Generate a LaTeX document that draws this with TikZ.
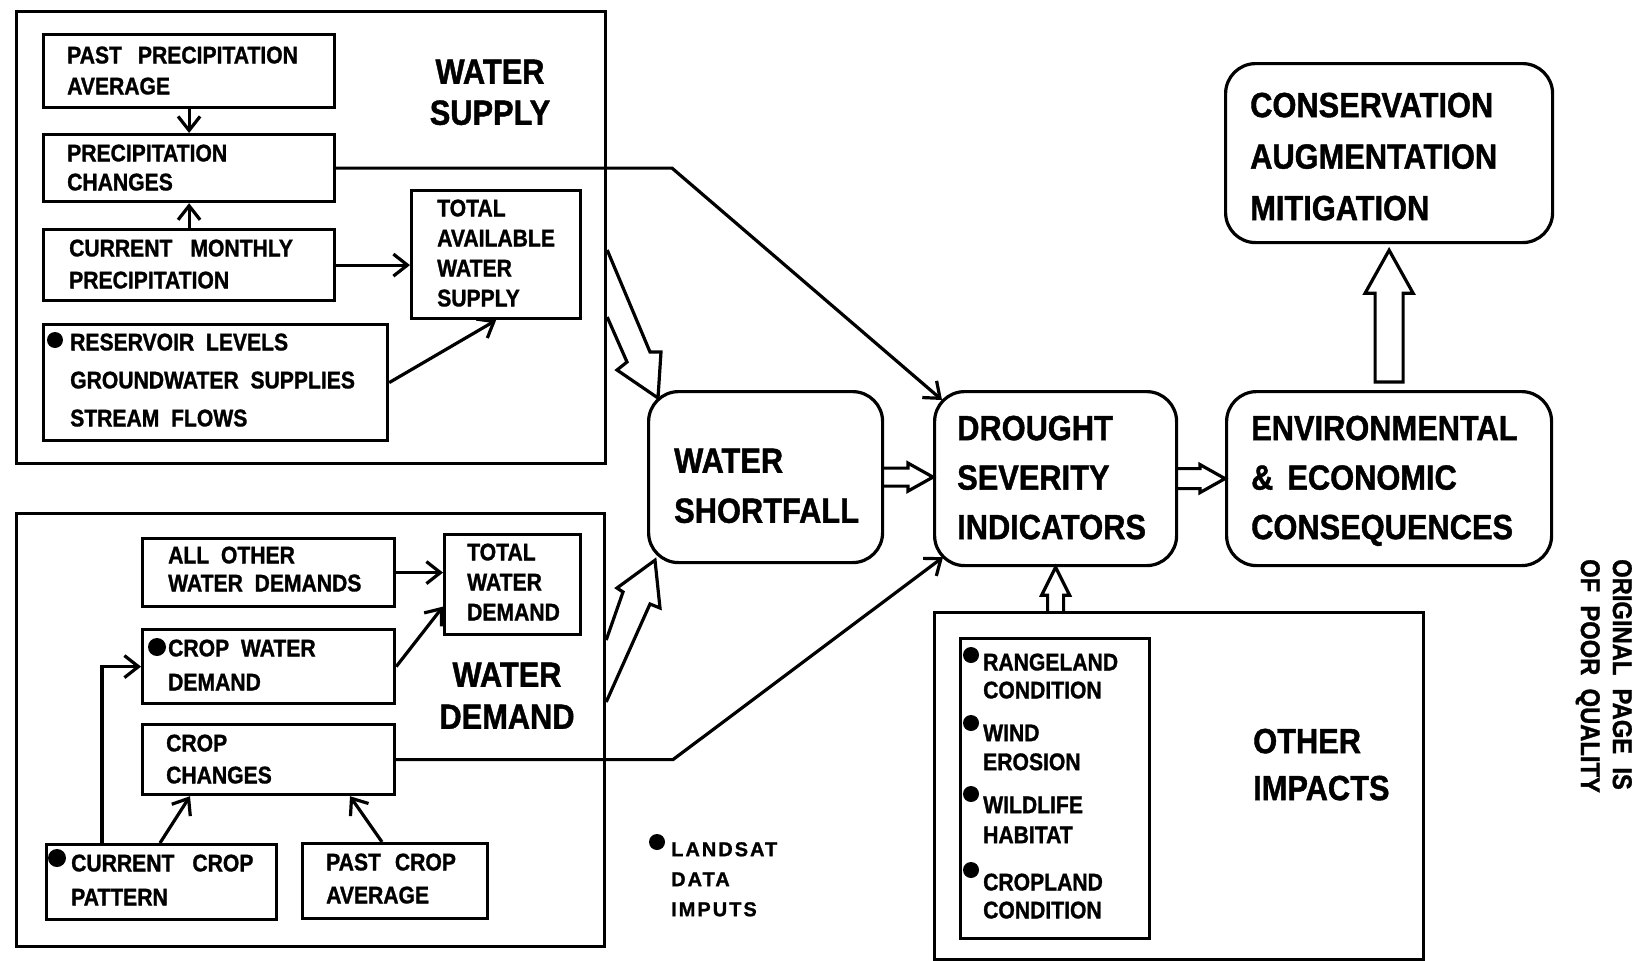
\documentclass[tikz,border=0pt]{standalone}
\usepackage{fontspec}
\setmainfont{Liberation Sans}
\newfontfamily\hb{Liberation Sans Bold}[FakeStretch=0.88,WordSpace=2,FakeBold=1.2]
\newfontfamily\lsfont{Liberation Sans Bold}[LetterSpace=10,FakeBold=1.2]
\usetikzlibrary{arrows.meta,calc}
\tikzset{
  bx/.style={draw,line width=3.2pt,inner sep=0pt,anchor=north west},
  rbx/.style={bx,rounded corners=30pt},
  st/.style={inner sep=0pt,anchor=north west,align=left,font=\hb\fontsize{24}{#1}\selectfont},
  bt/.style={inner sep=0pt,anchor=north west,align=left,font=\hb\fontsize{35}{#1}\selectfont},
  arr/.style={line width=3.2pt,-{Straight Barb[length=14pt,width=22pt]}},
  barrow/.style={line width=3.2pt,line join=miter},
  dot/.style={circle,fill,inner sep=0pt,minimum size=16pt},
}
\newcommand{\harrow}[6]{%
  \coordinate (hh) at ($(#2)!#5!(#1)$);
  \draw[barrow] ($(#1)!#3!90:(#2)$) -- ($(hh)!#3!90:(#2)$) -- ($(hh)!#4!90:(#2)$) -- (#2)
     -- ($(hh)!#4!-90:(#2)$) -- ($(hh)!#3!-90:(#2)$) -- ($(#1)!#3!-90:(#2)$) #6;
}
\begin{document}
\begin{tikzpicture}[x=1pt,y=-1pt]
\useasboundingbox (0,0) rectangle (1644,961);
% ---------- water supply ----------
\node[bx,minimum width=589pt,minimum height=452pt] (supply) at (15,10) {};
\node[bx,minimum width=291pt,minimum height=73pt] (pastprec) at (42,33) {};
\node[bx,minimum width=291pt,minimum height=67pt] (precch) at (42,133) {};
\node[bx,minimum width=291pt,minimum height=71pt] (curmon) at (42,228) {};
\node[bx,minimum width=344pt,minimum height=116pt] (reservoir) at (42,323) {};
\node[bx,minimum width=169pt,minimum height=128pt] (totav) at (410,189) {};
\node[st=31] (tpastprec) at (67,46.4) {PAST\hspace{16pt}PRECIPITATION\\AVERAGE};
\node[st=29] (tprecch) at (67,144.4) {PRECIPITATION\\CHANGES};
\node[st=32] (tcurmon) at (69,239.4) {CURRENT\hspace{18pt}MONTHLY\\PRECIPITATION};
\node[st=38] (treservoir) at (70,333.4) {RESERVOIR LEVELS\\GROUNDWATER SUPPLIES\\STREAM FLOWS};
\node[st=30] (ttotav) at (437,199.4) {TOTAL\\AVAILABLE\\WATER\\SUPPLY};
\node[bt=41,anchor=north,align=center] (tsupply) at (490,59.5) {WATER\\SUPPLY};
\node[dot] (dres) at (55,340) {};
% ---------- water demand ----------
\node[bx,minimum width=588pt,minimum height=433pt] (demand) at (15,512) {};
\node[bx,minimum width=252pt,minimum height=68pt] (allother) at (141,537) {};
\node[bx,minimum width=136pt,minimum height=100pt] (totwd) at (443,533) {};
\node[bx,minimum width=252pt,minimum height=74pt] (cropwd) at (141,628) {};
\node[bx,minimum width=252pt,minimum height=70pt] (cropch) at (141,723) {};
\node[bx,minimum width=230pt,minimum height=75pt] (curcrop) at (45,843) {};
\node[bx,minimum width=185pt,minimum height=75pt] (pastcrop) at (301,842) {};
\node[st=28] (tallother) at (168,546.4) {ALL OTHER\\WATER DEMANDS};
\node[st=30] (ttotwd) at (467,543.4) {TOTAL\\WATER\\DEMAND};
\node[st=34] (tcropwd) at (168,639.4) {CROP WATER\\DEMAND};
\node[st=32] (tcropch) at (166,734.4) {CROP\\CHANGES};
\node[st=34] (tcurcrop) at (71,854.4) {CURRENT\hspace{18pt}CROP\\PATTERN};
\node[st=33] (tpastcrop) at (326,853.4) {PAST\hspace{14pt}CROP\\AVERAGE};
\node[bt=42,anchor=north,align=center] (tdemand) at (507,662.5) {WATER\\DEMAND};
\node[dot,minimum size=18pt] (dcropwd) at (157,647) {};
\node[dot,minimum size=18pt] (dcurcrop) at (57,858) {};
% ---------- right part ----------
\node[rbx,minimum width=234pt,minimum height=171pt] (shortfall) at (647,390) {};
\node[rbx,minimum width=242pt,minimum height=174pt] (drought) at (933,390) {};
\node[rbx,minimum width=325pt,minimum height=174pt] (env) at (1225,390) {};
\node[rbx,minimum width=327pt,minimum height=179pt] (cons) at (1224,62) {};
\node[bx,minimum width=489pt,minimum height=347pt] (other) at (933,611) {};
\node[bx,minimum width=189pt,minimum height=300pt] (items) at (959,637) {};
\node[bt=50] (tshortfall) at (674,448.5) {WATER\\SHORTFALL};
\node[bt=49.5] (tdrought) at (957,415.5) {DROUGHT\\SEVERITY\\INDICATORS};
\node[bt=49.5] (tenv) at (1251,415.5) {ENVIRONMENTAL\\\&\hspace{14pt}ECONOMIC\\CONSEQUENCES};
\node[bt=51.5] (tcons) at (1250,92.5) {CONSERVATION\\AUGMENTATION\\MITIGATION};
\node[bt=47] (tother) at (1253,728.5) {OTHER\\IMPACTS};
\node[st=28] (trange) at (983,653.4) {RANGELAND\\CONDITION};
\node[st=29] (twind) at (983,724.4) {WIND\\EROSION};
\node[st=30] (twild) at (983,796.4) {WILDLIFE\\HABITAT};
\node[st=28] (tcropl) at (983,873.4) {CROPLAND\\CONDITION};
\node[dot] (di1) at (971,655) {};
\node[dot] (di2) at (971,723) {};
\node[dot] (di3) at (971,794) {};
\node[dot] (di4) at (971,870) {};
% ---------- legend / margin ----------
\node[dot] (dls) at (657,842) {};
\node[inner sep=0pt,anchor=north west,align=left,font=\lsfont\fontsize{20}{30}\selectfont] (tls) at (671,842) {LANDSAT\\DATA\\IMPUTS};
\node[rotate=-90,anchor=north west,inner sep=0pt,align=left,font=\hb\fontsize{27}{32}\selectfont] (torig) at (1632,559) {ORIGINAL PAGE IS\\OF POOR QUALITY};
% ---------- connectors: supply ----------
\draw[arr] (pastprec.south) -- (precch.north);
\draw[arr] (curmon.north) -- (precch.south);
\draw[arr] (curmon.east) -- (curmon.east -| totav.west);
\draw[arr] (reservoir.east) -- (totav.south);
\coordinate (k1) at (672,0);
\draw[arr] (precch.east) -- (precch.east -| k1) -- ($(drought.north west)+(9,10)$);
% ---------- connectors: demand ----------
\draw[arr] (allother.east) -- (allother.east -| totwd.west);
\draw[arr] (cropwd.east) -- ($(totwd.west)+(0,22)$);
\draw[arr] ($(curcrop.north west)+(57,0)$) |- (cropwd.west);
\draw[arr] ($(curcrop.north west)+(115,0)$) -- ($(cropch.south west)+(49,0)$);
\draw[arr] ($(pastcrop.north west)+(81,0)$) -- ($(cropch.south west)+(209,0)$);
\coordinate (k2) at (673,0);
\draw[arr] (cropch.east) -- (cropch.east -| k2) -- ($(drought.south west)+(10,-10)$);
% ---------- hollow arrows ----------
\coordinate (sa0) at (supply.east);
\draw[barrow] (sa0 |- 0,250) -- (650,352) -- (661,352) -- ($(shortfall.north west)+(11,8)$)
  -- (617,370) -- (627,362) -- (sa0 |- 0,317);
\coordinate (da0) at (demand.east);
\draw[barrow] (da0 |- 0,640) -- (623,592) -- (617,588) -- ($(shortfall.south west)+(8,-4)$)
  -- (660,608) -- (650,604) -- (da0 |- 0,702);
\coordinate (a1) at (shortfall.east); \coordinate (b1) at (drought.west |- shortfall.east);
\harrow{a1}{b1}{9pt}{14pt}{25pt}{}
\coordinate (a2) at (drought.east); \coordinate (b2) at (env.west |- drought.east);
\harrow{a2}{b2}{10pt}{14pt}{25pt}{}
\coordinate (a3) at ($(env.north)+(0,-8)$); \coordinate (b3) at ($(cons.south)+(0,6)$);
\harrow{a3}{b3}{14pt}{24pt}{43pt}{-- cycle}
\coordinate (a4) at (drought.south |- other.north); \coordinate (b4) at (drought.south);
\harrow{a4}{b4}{8pt}{14pt}{28pt}{}
\end{tikzpicture}
\end{document}
